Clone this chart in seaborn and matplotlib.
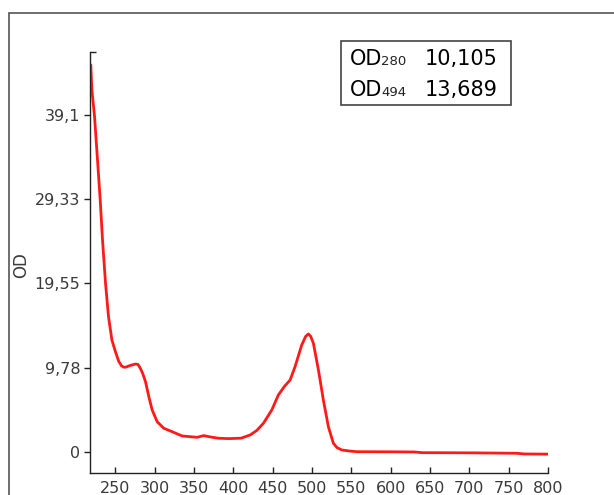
import numpy as np
import pandas as pd
import matplotlib
matplotlib.use("Agg")
import matplotlib.pyplot as plt
from matplotlib.patches import Rectangle
import seaborn as sns

# Spectrum
wavelength = [219, 220.4, 223.7, 226.7, 231, 233.9, 237.7, 241.5, 245.8, 250.4, 254.6, 258,
              261, 264, 267.3, 271.5, 275.9, 279, 282, 285, 288.5, 292.8, 297, 303.4, 311.8,
              322.4, 335, 354, 362.5, 371, 381.5, 395, 410, 421.5, 430, 438.4, 449, 457.3,
              465, 472.3, 478.6, 487, 492, 495.5, 498.5, 501.9, 508.3, 514.6, 521, 527.3,
              532, 538, 548.6, 557, 600, 630, 640, 700, 760, 770, 800]
od = [44.9, 42.0, 39.0, 35.0, 29.2, 24.6, 19.6, 15.7, 13.0, 11.6, 10.5, 10.0,
      9.83, 9.85, 9.98, 10.1, 10.2, 10.15, 9.7, 9.1, 8.16, 6.4, 4.87, 3.5, 2.75,
      2.35, 1.86, 1.7, 1.9, 1.74, 1.59, 1.55, 1.6, 1.97, 2.5, 3.33, 4.87, 6.6,
      7.6, 8.35, 9.9, 12.4, 13.4, 13.69, 13.4, 12.6, 9.5, 6.0, 2.9, 1.0,
      0.5, 0.23, 0.1, 0.03, 0.02, 0.0, -0.08, -0.1, -0.15, -0.23, -0.25]

ytick_vals = [0, 9.78, 19.55, 29.33, 39.1]
ytick_labels = ["0", "9,78", "19,55", "29,33", "39,1"]
xtick_vals = [250, 300, 350, 400, 450, 500, 550, 600, 650, 700, 750, 800]

box_names = ["280", "494"]
box_values = ["10,105", "13,689"]

df = pd.DataFrame({"wavelength": wavelength, "OD": od})

sns.set_style("ticks")
plt.rcParams["font.family"] = ["DejaVu Sans"]

fig = plt.figure(figsize=(6.14, 4.95), dpi=100)
ax = fig.add_axes([90 / 614, 1 - 473 / 495, 458 / 614, 421 / 495])

sns.lineplot(data=df, x="wavelength", y="OD", color="#ff1a1a", linewidth=2, ax=ax)

ax.set_xlim(218, 800)
ax.set_ylim(-2.44, 46.4)
ax.set_xticks(xtick_vals)
ax.set_xticklabels([str(v) for v in xtick_vals])
ax.set_yticks(ytick_vals)
ax.set_yticklabels(ytick_labels)
ax.set_yticks([46.4], minor=True)

sns.despine(ax=ax)
for side in ["left", "bottom"]:
    ax.spines[side].set_color("#222222")
    ax.spines[side].set_linewidth(1)

ax.tick_params(axis="y", which="major", direction="out", length=4, width=1,
               labelsize=11.5, labelcolor="#3a3a3a", color="#222222", pad=3)
ax.tick_params(axis="y", which="minor", direction="in", length=4, width=1, color="#222222")
ax.tick_params(axis="x", direction="in", length=4, width=1,
               labelsize=11.5, labelcolor="#3a3a3a", color="#222222", pad=6)

ax.set_xlabel("")
ax.set_ylabel("OD", fontsize=12, color="#3a3a3a")
ax.yaxis.set_label_coords(-0.13, 0.494)

# outer frame
fig.patches.append(Rectangle((9 / 614, -0.1), 1.2, 1 - 13 / 495 + 0.1, transform=fig.transFigure,
                             fill=False, edgecolor="#555555", linewidth=1.2))

# value box
fig.patches.append(Rectangle((341 / 614, 1 - 105 / 495), 170 / 614, 64 / 495,
                             transform=fig.transFigure, facecolor="white",
                             edgecolor="#444444", linewidth=1.2, zorder=5))
for i, (name, val) in enumerate(zip(box_names, box_values)):
    base = 1 - (65 + i * 31) / 495
    fig.text(350 / 614, base, "OD", fontsize=15, color="black", va="baseline", zorder=6)
    fig.text(381 / 614, base, name, fontsize=9.5, color="#222222", va="baseline", zorder=6)
    fig.text(425 / 614, base, val, fontsize=15, color="black", va="baseline", zorder=6)

fig.savefig("out.png", dpi=100)
